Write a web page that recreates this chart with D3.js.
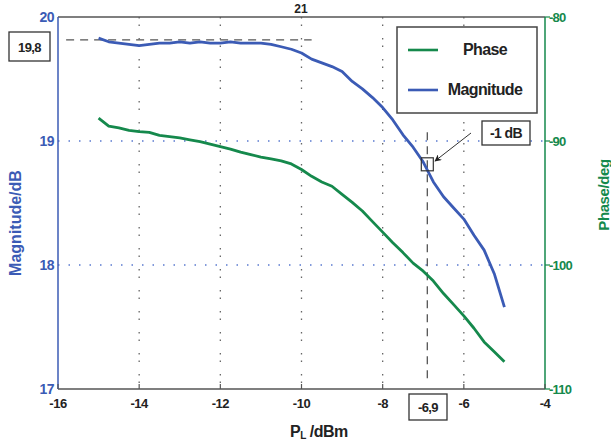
<!DOCTYPE html>
<html><head><meta charset="utf-8">
<script src="https://cdn.jsdelivr.net/npm/d3@7"></script>
<style>
body{margin:0;background:#fff;}
text{font-family:"Liberation Sans",Arial,sans-serif;font-weight:bold;}
</style></head>
<body><svg id="c" width="611" height="440"></svg>
<script>
const powerIn = [-15,-14.75,-14.5,-14.25,-14,-13.75,-13.5,-13.25,-13,-12.75,-12.5,-12.25,-12,-11.75,-11.5,-11.25,-11,-10.75,-10.5,-10.25,-10,-9.75,-9.5,-9.25,-9,-8.75,-8.5,-8.25,-8,-7.75,-7.5,-7.25,-7,-6.75,-6.5,-6.25,-6,-5.75,-5.5,-5.25,-5];
const magnitude = [19.83,19.80,19.79,19.78,19.77,19.78,19.79,19.79,19.80,19.79,19.80,19.79,19.79,19.80,19.79,19.79,19.79,19.78,19.76,19.74,19.71,19.66,19.63,19.60,19.56,19.48,19.42,19.35,19.27,19.17,19.05,18.95,18.83,18.67,18.55,18.46,18.37,18.24,18.12,17.93,17.66];
const phase = [-88.15,-88.8,-88.95,-89.15,-89.25,-89.3,-89.55,-89.65,-89.75,-89.9,-90.05,-90.25,-90.45,-90.65,-90.9,-91.1,-91.3,-91.45,-91.6,-91.85,-92.3,-92.85,-93.3,-93.65,-94.3,-94.95,-95.65,-96.5,-97.35,-98.2,-99.0,-99.85,-100.5,-101.3,-102.3,-103.2,-104.1,-105.1,-106.2,-107.0,-107.8];
const xTicks = [-16,-14,-12,-10,-8,-6,-4];
const magTicks = [20,19,18,17];
const phaseTicks = [-80,-90,-100,-110];
const refMag = 19.8, refP = -6.9, compMag = 18.8;
const title = "21";

const blue = "#3b5bb5", green = "#15894c";
const L = 58, R = 545, T = 17, B = 389;
const svg = d3.select("#c");
const x = d3.scaleLinear().domain([-16,-4]).range([L,R]);
const yM = d3.scaleLinear().domain([17,20]).range([B,T]);
const yP = d3.scaleLinear().domain([-110,-80]).range([B,T]);

// vertical grid
svg.append("g").selectAll("line").data(xTicks.slice(1,-1)).join("line")
  .attr("x1",d=>x(d)).attr("x2",d=>x(d)).attr("y1",T).attr("y2",B)
  .attr("stroke","#666").attr("stroke-width",1.3).attr("stroke-dasharray","1.5,6,1.5,12");
// horizontal grid
svg.append("g").selectAll("line").data([19,18]).join("line")
  .attr("x1",L).attr("x2",R).attr("y1",d=>yM(d)).attr("y2",d=>yM(d))
  .attr("stroke","#5a7ad0").attr("stroke-width",1.3).attr("stroke-dasharray","1.5,9");

// frame
svg.append("line").attr("x1",L).attr("x2",R).attr("y1",T).attr("y2",T).attr("stroke","#555").attr("stroke-width",1.5);
svg.append("line").attr("x1",L).attr("x2",R).attr("y1",B).attr("y2",B).attr("stroke","#555").attr("stroke-width",1.5);
svg.append("line").attr("x1",L).attr("x2",L).attr("y1",T).attr("y2",B).attr("stroke",blue).attr("stroke-width",1.5);
svg.append("line").attr("x1",R).attr("x2",R).attr("y1",T).attr("y2",B).attr("stroke",green).attr("stroke-width",1.5);

// bottom ticks
svg.append("g").selectAll("line").data(xTicks).join("line")
  .attr("x1",d=>x(d)).attr("x2",d=>x(d)).attr("y1",B).attr("y2",B-5).attr("stroke","#555").attr("stroke-width",1.2);
svg.append("g").selectAll("text").data(xTicks).join("text")
  .attr("x",d=>x(d)).attr("y",B+19).attr("text-anchor","middle").attr("font-size",13).attr("fill","#222")
  .attr("letter-spacing","-0.5").text(d=>d);
// left labels
svg.append("g").selectAll("text").data(magTicks).join("text")
  .attr("x",L-4).attr("y",d=>yM(d)+5).attr("text-anchor","end").attr("font-size",14).attr("fill",blue)
  .attr("letter-spacing","-0.5").text(d=>d);
// right ticks and labels
svg.append("g").selectAll("line").data(phaseTicks).join("line")
  .attr("x1",R).attr("x2",R+5).attr("y1",d=>yP(d)).attr("y2",d=>yP(d)).attr("stroke",green).attr("stroke-width",1.2);
svg.append("g").selectAll("text").data(phaseTicks).join("text")
  .attr("x",R+4).attr("y",d=>yP(d)+5).attr("font-size",13).attr("fill",green)
  .attr("letter-spacing","-0.8").text(d=>d);

// axis titles
svg.append("text").attr("transform",`translate(21,223) rotate(-90)`).attr("text-anchor","middle")
  .attr("font-size",16).attr("fill",blue).attr("letter-spacing","0").text("Magnitude/dB");
svg.append("text").attr("transform",`translate(609,195) rotate(-90)`).attr("text-anchor","middle")
  .attr("font-size",15).attr("fill",green).attr("letter-spacing","-0.4").text("Phase/deg");
const xt = svg.append("text").attr("x",290).attr("y",437).attr("font-size",16).attr("fill","#222").attr("letter-spacing","-0.5");
xt.append("tspan").text("P");
xt.append("tspan").attr("font-size",10).attr("dy",2).text("L");
xt.append("tspan").attr("dy",-2).text(" /dBm");
svg.append("text").attr("x",301).attr("y",13).attr("text-anchor","middle").attr("font-size",12).attr("fill","#222").text(title);

// reference dashed lines
svg.append("line").attr("x1",x(-15.8)).attr("x2",x(-9.75)).attr("y1",yM(refMag)-2).attr("y2",yM(refMag)-2)
  .attr("stroke","#555").attr("stroke-width",1.3).attr("stroke-dasharray","8,6");
svg.append("line").attr("x1",x(refP)).attr("x2",x(refP)).attr("y1",yM(19.07)).attr("y2",B-8)
  .attr("stroke","#555").attr("stroke-width",1.3).attr("stroke-dasharray","8,6");

// curves
const lineM = d3.line().x((d,i)=>x(powerIn[i])).y(d=>yM(d));
const lineP = d3.line().x((d,i)=>x(powerIn[i])).y(d=>yP(d));
svg.append("path").attr("d",lineP(phase)).attr("fill","none").attr("stroke",green).attr("stroke-width",2.8).attr("stroke-linejoin","round");
svg.append("path").attr("d",lineM(magnitude)).attr("fill","none").attr("stroke",blue).attr("stroke-width",2.8).attr("stroke-linejoin","round");

// marker square at -1 dB point
svg.append("rect").attr("x",x(refP)-6).attr("y",yM(compMag)-8).attr("width",12).attr("height",13)
  .attr("fill","none").attr("stroke","#333").attr("stroke-width",1.2);
// arrow
svg.append("defs").append("marker").attr("id","ah").attr("viewBox","0 0 10 10").attr("refX",9).attr("refY",5)
  .attr("markerWidth",9).attr("markerHeight",7).attr("orient","auto")
  .append("path").attr("d","M0,0 L10,5 L0,10 L3,5 z").attr("fill","#222");
svg.append("line").attr("x1",471).attr("y1",133).attr("x2",435).attr("y2",161)
  .attr("stroke","#333").attr("stroke-width",1).attr("marker-end","url(#ah)");

// annotation boxes
function box(x0,y0,w,h,t,fs){
  svg.append("rect").attr("x",x0).attr("y",y0).attr("width",w).attr("height",h).attr("fill","#fff").attr("stroke","#333").attr("stroke-width",1.3);
  svg.append("text").attr("x",x0+w/2).attr("y",y0+h/2+5).attr("text-anchor","middle").attr("font-size",fs).attr("fill","#222").attr("letter-spacing","-0.6").text(t);
}
box(9,32,41,29,"19,8",13);
box(482,121,48,24,"-1 dB",14);
box(409,394,38,26,"-6,9",13);

// legend
svg.append("rect").attr("x",397).attr("y",27).attr("width",140).attr("height",86).attr("fill","#fff").attr("stroke","#444").attr("stroke-width",1.5);
const leg = [["Phase",green,50],["Magnitude",blue,90]];
leg.forEach(([t,c,yy])=>{
  svg.append("line").attr("x1",408).attr("x2",438).attr("y1",yy).attr("y2",yy).attr("stroke",c).attr("stroke-width",2.6);
  svg.append("text").attr("x",485).attr("y",yy+5).attr("text-anchor","middle").attr("font-size",16).attr("fill","#222").attr("letter-spacing","-0.6").text(t);
});
</script></body></html>
